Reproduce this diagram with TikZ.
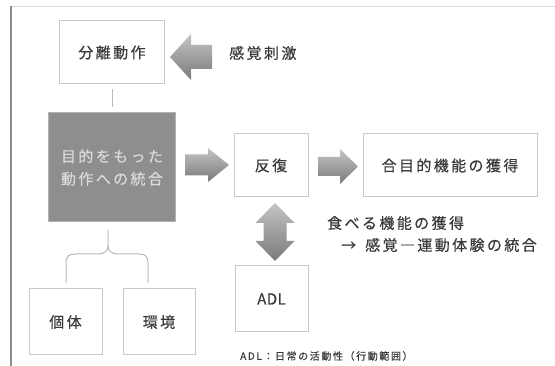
\documentclass[tikz,border=0pt]{standalone}
\usepackage{fontspec}
\setmainfont{Noto Sans CJK JP}[LetterSpace=16,FakeBold=0.4]
\usetikzlibrary{shapes.arrows}
\definecolor{txt}{HTML}{3A3A3A}
\definecolor{bord}{HTML}{C8C8C8}
\definecolor{grayfill}{HTML}{8E8E8E}
\definecolor{graytxt}{HTML}{DADADA}
\definecolor{arrlight}{HTML}{C4C4C4}
\definecolor{arrdark}{HTML}{7A7A7A}
\tikzset{
  box/.style={draw=bord, line width=1pt, fill=white, inner sep=0pt, text=txt,
    font=\fontsize{15}{18}\selectfont},
  graybox/.style={draw=bord!70!gray, line width=1pt, fill=grayfill, inner sep=0pt,
    text=graytxt, align=center, font=\fontsize{15}{22.5}\selectfont},
  label/.style={inner sep=0pt, text=txt, font=\fontsize{15}{18}\selectfont},
  conn/.style={draw=bord!80!gray, line width=1pt},
  arrowshade/.style={top color=arrlight, bottom color=arrdark, draw=none},
}
\begin{document}
\begin{tikzpicture}[x=1pt,y=-1pt]
\useasboundingbox (0,0) rectangle (555,366);
\fill[white] (0,0) rectangle (555,366);
\draw[draw=black!15, line width=1.2pt] (11,6.5) -- (555,6.5);
\draw[draw=black!45, line width=1.5pt] (11,366) -- (11,6);

\node[box, minimum width=105pt, minimum height=63pt] (bunri) at (112,52.5) {分離動作};
\node[graybox, minimum width=127pt, minimum height=109pt] (gray) at (112,167.5) {目的をもった\\動作への統合};
\node[box, minimum width=74pt, minimum height=63pt] (hanpuku) at (271,165.5) {反復};
\node[box, minimum width=174pt, minimum height=63pt] (goumoku) at (450,165.5) {合目的機能の獲得};
\node[box, minimum width=73pt, minimum height=66pt] (adl) at (271.5,299) {\addfontfeatures{LetterSpace=3}ADL};
\node[box, minimum width=73pt, minimum height=66pt] (kotai) at (65.5,322) {個体};
\node[box, minimum width=72pt, minimum height=66pt] (kankyo) at (159,322) {環境};

\node[label, anchor=west] (kankaku) at (229,53) {感覚刺激};
\node[label, anchor=west] (taberu) at (327,223) {食べる機能の獲得};
\node[label, anchor=west] (togo) at (341,245) {→\kern9pt 感覚―運動体験の統合};
\node[label, anchor=west, font=\fontsize{10}{12}\selectfont] (cap) at (240,356) {ADL：日常の活動性（行動範囲）};

% block arrows
\coordinate (a0) at (191,57);
\coordinate (a1) at (207,165);
\coordinate (a2) at (338,166.5);
\coordinate (a3) at (275,232);
\begin{scope}[shift={(a0)}]
  \shade[arrowshade] (-21,0) -- (0,-23) -- (0,-12) -- (21,-12) -- (21,12) -- (0,12) -- (0,23) -- cycle;
\end{scope}
\begin{scope}[shift={(a1)}]
  \shade[arrowshade] (22,0) -- (1,-17) -- (1,-10.5) -- (-22,-10.5) -- (-22,10.5) -- (1,10.5) -- (1,17) -- cycle;
\end{scope}
\begin{scope}[shift={(a2)}]
  \shade[arrowshade] (20,0) -- (2,-17.5) -- (2,-9.5) -- (-20,-9.5) -- (-20,9.5) -- (2,9.5) -- (2,17.5) -- cycle;
\end{scope}
\begin{scope}[shift={(a3)}]
  \shade[arrowshade] (0,-29) -- (19.5,-9) -- (11.5,-9) -- (11.5,9) -- (19.5,9) -- (0,29)
    -- (-19.5,9) -- (-11.5,9) -- (-11.5,-9) -- (-19.5,-9) -- cycle;
\end{scope}

\draw[conn, shorten <=5pt, shorten >=5pt] (bunri.south) -- (gray.north);

\coordinate (bt) at (108,230);
\draw[conn] (bt) -- (108,246) .. controls (108,251) and (104,254) .. (98,254) -- (76,254)
  .. controls (69,254) and (66,256) .. (66,263) -- (66,283);
\draw[conn] (108,246) .. controls (108,251) and (112,254) .. (118,254) -- (138,254)
  .. controls (145,254) and (148,256) .. (148,263) -- (148,283);
\end{tikzpicture}
\end{document}
